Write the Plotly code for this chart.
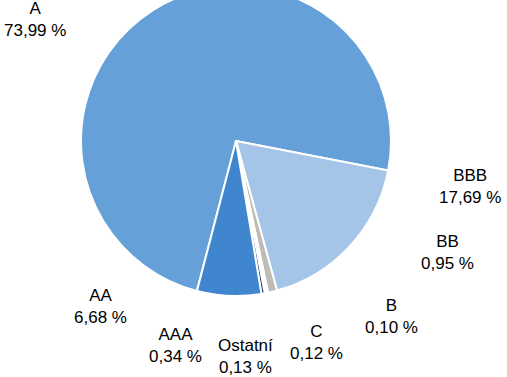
import plotly.graph_objects as go

labels = ["A", "BBB", "BB", "B", "C", "Ostatní", "AAA", "AA"]
values = [73.99, 17.69, 0.95, 0.10, 0.12, 0.13, 0.34, 6.68]
colors = ["#65A0D8", "#A5C5E8", "#BEBAB6", "#8EB4E3", "#254061", "#4F81BD", "#1F3B6E", "#4086CE"]

# label anchor positions in window pixels (x, y of block centre)
label_pos = [(35, 19), (470, 186.5), (447, 252.5), (391, 316.5),
             (316, 342.5), (245, 356.5), (175, 345), (100, 306.5)]

W, H, SHIFT = 507, 391, 14

fig = go.Figure(go.Pie(
    labels=labels, values=values, sort=False, direction="clockwise",
    rotation=194.6, textinfo="none", hoverinfo="label+percent",
    marker=dict(colors=colors, line=dict(color="white", width=2)),
    domain=dict(x=[81/W, 391/W], y=[81/H, 1.0]),
    showlegend=False,
))

for lab, v, (px, py) in zip(labels, values, label_pos):
    txt = f"{lab}<br>{v:.2f}".replace(".", ",") + " %"
    fig.add_annotation(
        x=px / W, y=(H - (py + SHIFT)) / H, xref="paper", yref="paper",
        text=txt, showarrow=False, xanchor="center", yanchor="middle",
        font=dict(family="Liberation Sans, Arial", size=17, color="black"),
    )

fig.update_layout(
    width=W, height=H, margin=dict(l=0, r=0, t=0, b=0),
    paper_bgcolor="white", plot_bgcolor="white",
)

post = ("document.body.style.margin='0';document.body.style.overflow='hidden';"
        "var d=document.getElementById('{plot_id}');d.style.marginTop='-%dpx';" % SHIFT)
fig.write_html("out.html", post_script=post, config={"displayModeBar": False})
